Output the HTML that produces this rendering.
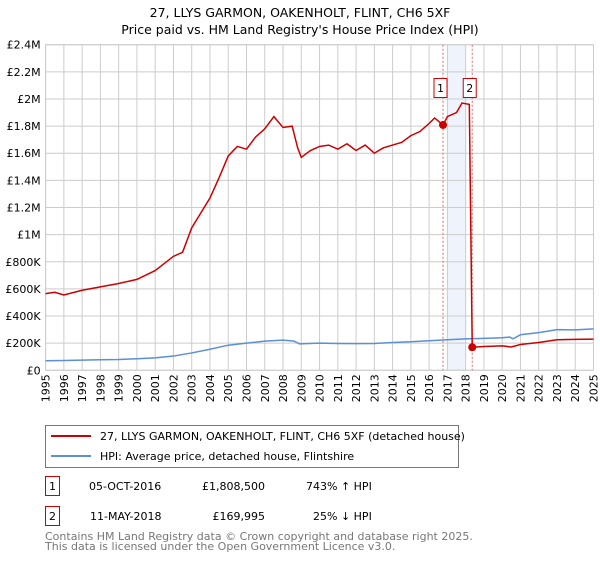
<!DOCTYPE html>
<html><head><meta charset="utf-8"><style>
body{margin:0;background:#fff;font-family:"Liberation Sans","DejaVu Sans",sans-serif;}
svg text{font-family:"DejaVu Sans","Liberation Sans",sans-serif;}
</style></head><body>
<svg id="c" width="600" height="560" xmlns="http://www.w3.org/2000/svg">
<text x="300" y="17" text-anchor="middle" font-size="12.5">27, LLYS GARMON, OAKENHOLT, FLINT, CH6 5XF</text>
<text x="300" y="34" text-anchor="middle" font-size="12.5">Price paid vs. HM Land Registry's House Price Index (HPI)</text>
<g id="grid"></g><g id="marks"></g><g id="axes"></g>
<g>
<rect x="45.5" y="425.5" width="413" height="42" fill="#fff" stroke="#777"/>
<line x1="51" y1="436" x2="91" y2="436" stroke="#cc0000" stroke-width="2"/>
<text x="100" y="440" font-size="11">27, LLYS GARMON, OAKENHOLT, FLINT, CH6 5XF (detached house)</text>
<line x1="51" y1="456" x2="91" y2="456" stroke="#5b8fd6" stroke-width="2"/>
<text x="100" y="460" font-size="11">HPI: Average price, detached house, Flintshire</text>
</g>
<g>
<rect x="45.5" y="476.5" width="14" height="19" fill="#fff" stroke="#cc0000"/>
<text x="52.5" y="490" text-anchor="middle" font-size="11">1</text>
<text x="89" y="490" font-size="11">05-OCT-2016</text>
<text x="265" y="490" text-anchor="end" font-size="11">£1,808,500</text>
<text x="306" y="490" font-size="11">743% ↑ HPI</text>
<rect x="45.5" y="506.5" width="14" height="19" fill="#fff" stroke="#cc0000"/>
<text x="52.5" y="520" text-anchor="middle" font-size="11">2</text>
<text x="90" y="520" font-size="11">11-MAY-2018</text>
<text x="265" y="520" text-anchor="end" font-size="11">£169,995</text>
<text x="313" y="520" font-size="11">25% ↓ HPI</text>
</g>
<text x="45" y="540" font-size="11" fill="#777">Contains HM Land Registry data © Crown copyright and database right 2025.</text>
<text x="45" y="550" font-size="11" fill="#777">This data is licensed under the Open Government Licence v3.0.</text>
</svg>
<script>
const yTicks=[0,200000,400000,600000,800000,1000000,1200000,1400000,1600000,1800000,2000000,2200000,2400000];
const yTickLabels=["£0","£200K","£400K","£600K","£800K","£1M","£1.2M","£1.4M","£1.6M","£1.8M","£2M","£2.2M","£2.4M"];
const xYears=[1995,1996,1997,1998,1999,2000,2001,2002,2003,2004,2005,2006,2007,2008,2009,2010,2011,2012,2013,2014,2015,2016,2017,2018,2019,2020,2021,2022,2023,2024,2025];
const hpiT=[1995,1996,1997,1998,1999,2000,2001,2002,2003,2004,2005,2006,2007,2008,2008.6,2008.9,2010,2011,2012,2013,2014,2015,2016,2017,2018,2019,2020,2020.4,2020.6,2021,2022,2023,2024,2025];
const hpiV=[70000,72000,75000,78000,80000,85000,92000,105000,128000,155000,185000,200000,215000,222000,215000,195000,200000,198000,197000,198000,205000,210000,218000,225000,232000,235000,240000,245000,232000,262000,278000,300000,298000,305000];
const redT=[1995,1995.5,1996,1997,1998,1999,2000,2001,2002,2002.5,2003,2004,2004.5,2005,2005.5,2006,2006.5,2007,2007.5,2008,2008.5,2008.8,2009,2009.5,2010,2010.5,2011,2011.5,2012,2012.5,2013,2013.5,2014,2014.5,2015,2015.5,2016,2016.3,2016.76,2017,2017.5,2017.8,2018.2,2018.36,2019,2020,2020.5,2021,2022,2023,2024,2025];
const redV=[565000,575000,555000,590000,615000,640000,670000,735000,840000,870000,1050000,1270000,1420000,1580000,1650000,1630000,1720000,1780000,1870000,1790000,1800000,1640000,1570000,1620000,1650000,1660000,1630000,1670000,1620000,1660000,1600000,1640000,1660000,1680000,1730000,1760000,1820000,1860000,1808500,1870000,1900000,1970000,1960000,169995,175000,180000,172000,190000,205000,225000,228000,230000];
const saleT=[2016.76,2018.36];
const saleV=[1808500,169995];
const saleLabels=["1","2"];
const X0=45.6,X1=593.5,Y0=370.3,Y1=44.7;
const xs=t=>X0+(t-1995)/30*(X1-X0);
const ys=v=>Y0-v/2400000*(Y0-Y1);
const NS="http://www.w3.org/2000/svg";
function mk(tag,attrs,parent){const e=document.createElementNS(NS,tag);for(const k in attrs)e.setAttribute(k,attrs[k]);parent.appendChild(e);return e;}
const grid=document.getElementById('grid'),marks=document.getElementById('marks'),axes=document.getElementById('axes');
mk('rect',{x:X0,y:Y1,width:X1-X0,height:Y0-Y1,fill:'#fff'},grid);
const sh=mk('rect',{x:xs(2017),y:Y1,width:xs(2018)-xs(2017),height:Y0-Y1,fill:'#eef3fc'},grid);


yTicks.forEach((v,i)=>{
 mk('line',{x1:X0,x2:X1,y1:ys(v),y2:ys(v),stroke:'#ccc','stroke-width':1},grid);
 const t=mk('text',{x:X0-5,y:ys(v)+4,'text-anchor':'end','font-size':11},axes);
 t.textContent=yTickLabels[i];
 
 
});
xYears.forEach(yr=>{
 mk('line',{x1:xs(yr),x2:xs(yr),y1:Y1,y2:Y0,stroke:'#ccc','stroke-width':1},grid);
 const t=mk('text',{x:0,y:0,'text-anchor':'end','font-size':11,transform:`translate(${xs(yr)+4},${Y0+4}) rotate(-90)`},axes);
 t.textContent=String(yr);
 
 
});
mk('rect',{x:X0,y:Y1,width:X1-X0,height:Y0-Y1,fill:'none',stroke:'#ccc'},grid);
saleT.forEach(t=>mk('line',{x1:xs(t),x2:xs(t),y1:Y1,y2:Y0,stroke:'#e06666','stroke-width':1,'stroke-dasharray':'2,2'},grid));
const hp=mk('polyline',{points:hpiT.map((t,i)=>xs(t)+','+ys(hpiV[i])).join(' '),fill:'none',stroke:'#5b8fd6','stroke-width':1.5},marks);


const rl=mk('polyline',{points:redT.map((t,i)=>xs(t)+','+ys(redV[i])).join(' '),fill:'none',stroke:'#cc0000','stroke-width':1.5},marks);


saleT.forEach((t,i)=>{
 const c=mk('circle',{cx:xs(t),cy:ys(saleV[i]),r:4,fill:'#cc0000'},marks);
 
 
 const bx=xs(t)-9;
 mk('rect',{x:bx,y:78.5,width:13,height:19,fill:'#fff',stroke:'#cc0000'},marks);
 const lt=mk('text',{x:bx+6.5,y:92,'text-anchor':'middle','font-size':11},marks);
 lt.textContent=saleLabels[i];
 
 
});
</script>
</body></html>
